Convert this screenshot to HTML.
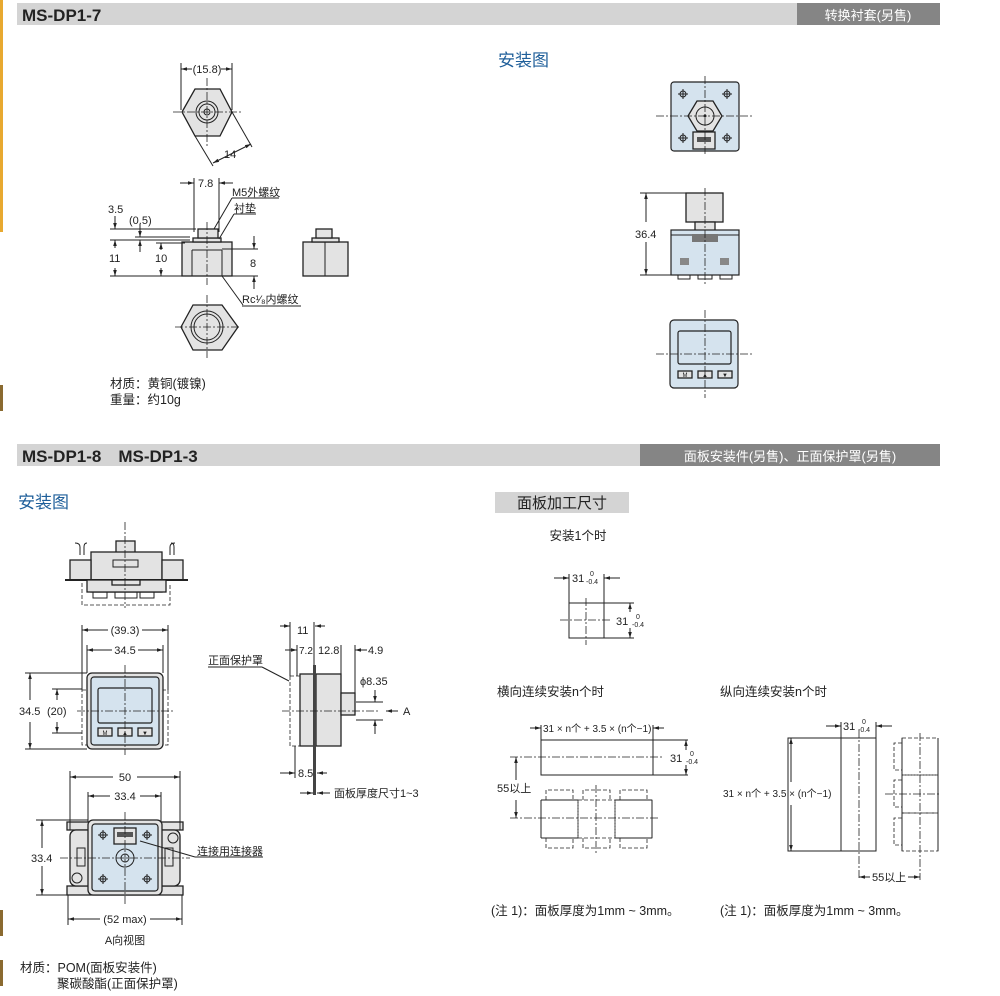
<!DOCTYPE html>
<html><head><meta charset="utf-8"><style>
body{margin:0;background:#fff;width:1000px;height:996px;overflow:hidden;font-family:"Liberation Sans","Noto Sans CJK SC",sans-serif}
svg{position:absolute;left:0;top:0}
text{font-family:"Liberation Sans","Noto Sans CJK SC",sans-serif;fill:#222}
.t{font-size:11px}
.s{font-size:12.5px}
.ln{stroke:#222;stroke-width:1;fill:none}
.c{stroke:#222;stroke-width:0.8;fill:none;stroke-dasharray:8 2 2 2}
.d{stroke:#222;stroke-width:0.8;fill:none;stroke-dasharray:4 2}
.p{fill:#e3e3e3;stroke:#222;stroke-width:1.3}
.b{fill:#d5e3ee;stroke:#222;stroke-width:1.2}
</style></head><body>
<svg width="1000" height="996" viewBox="0 0 1000 996">
<defs><marker id="a" viewBox="0 0 10 10" refX="10" refY="5" markerWidth="6" markerHeight="6" orient="auto-start-reverse"><path d="M0,2 L10,5 L0,8z" fill="#222"/></marker></defs>
<!-- left edge -->
<rect x="0" y="0" width="3" height="232" fill="#e8a930"/>
<rect x="0" y="385" width="3" height="26" fill="#8a6a30"/>
<rect x="0" y="910" width="3" height="26" fill="#8a6a30"/>
<rect x="0" y="960" width="3" height="26" fill="#8a6a30"/>
<!-- headers -->
<rect x="17" y="3" width="923" height="22" fill="#d4d4d4"/>
<rect x="797" y="3" width="143" height="22" fill="#858585"/>
<text x="22" y="21" style="font-size:17px;font-weight:bold">MS-DP1-7</text>
<text x="868" y="20" text-anchor="middle" style="font-size:13px;fill:#fff">转换衬套(另售)</text>
<rect x="17" y="444" width="923" height="22" fill="#d4d4d4"/>
<rect x="640" y="444" width="300" height="22" fill="#858585"/>
<text x="22" y="462" style="font-size:17px;font-weight:bold">MS-DP1-8　MS-DP1-3</text>
<text x="790" y="461" text-anchor="middle" style="font-size:13px;fill:#fff">面板安装件(另售)、正面保护罩(另售)</text>

<!-- top hex -->
<polygon class="p" points="182,112 195,89 220,89 232,112 220,136 195,136"/>
<circle class="ln" cx="207" cy="112" r="11"/><circle class="ln" cx="207" cy="112" r="8"/><circle class="ln" cx="207" cy="112" r="3"/>
<line class="c" x1="173" y1="112" x2="242" y2="112"/><line class="c" x1="207" y1="78" x2="207" y2="146"/>
<line class="ln" x1="181" y1="63" x2="181" y2="110"/><line class="ln" x1="232" y1="63" x2="232" y2="110"/>
<line class="ln" x1="181" y1="69" x2="192" y2="69" marker-start="url(#a)"/><line class="ln" x1="221" y1="69" x2="232" y2="69" marker-end="url(#a)"/>
<text class="t" x="207" y="73" text-anchor="middle">(15.8)</text>
<line class="ln" x1="195" y1="136" x2="213" y2="166"/><line class="ln" x1="232" y1="112" x2="252" y2="147"/>
<line class="ln" x1="213" y1="163" x2="251" y2="144" marker-start="url(#a)" marker-end="url(#a)"/>
<text class="t" x="224" y="158">14</text>
<!-- side view -->
<rect class="p" x="182" y="242" width="50" height="34"/>
<rect class="p" x="193" y="238" width="28" height="4"/>
<rect class="p" x="198" y="229" width="20" height="9"/>
<line class="ln" x1="192" y1="250" x2="222" y2="250"/><line class="ln" x1="192" y1="250" x2="192" y2="276"/><line class="ln" x1="222" y1="250" x2="222" y2="276"/>
<line class="c" x1="207" y1="222" x2="207" y2="285"/>
<line class="ln" x1="194" y1="178" x2="194" y2="232"/><line class="ln" x1="219" y1="178" x2="219" y2="232"/>
<line class="ln" x1="180" y1="183" x2="194" y2="183" marker-end="url(#a)"/><line class="ln" x1="233" y1="183" x2="219" y2="183" marker-end="url(#a)"/>
<text class="t" x="198" y="187">7.8</text>
<text class="t" x="232" y="196">M5外螺纹</text><line class="ln" x1="232" y1="198" x2="279" y2="198"/><line class="ln" x1="232" y1="198" x2="214" y2="229"/>
<text class="t" x="234" y="212">衬垫</text><line class="ln" x1="234" y1="214" x2="256" y2="214"/><line class="ln" x1="234" y1="214" x2="219" y2="239"/>
<text class="t" x="108" y="213">3.5</text>
<text class="t" x="129" y="224">(0.5)</text>
<line class="ln" x1="110" y1="229" x2="196" y2="229"/><line class="ln" x1="110" y1="240" x2="190" y2="240"/>
<line class="ln" x1="135" y1="237" x2="190" y2="237"/>
<line class="ln" x1="115" y1="216" x2="115" y2="229" marker-end="url(#a)"/>
<line class="ln" x1="140" y1="224" x2="140" y2="237" marker-end="url(#a)"/><line class="ln" x1="140" y1="252" x2="140" y2="240" marker-end="url(#a)"/>
<line class="ln" x1="115" y1="248" x2="115" y2="240" marker-end="url(#a)"/><line class="ln" x1="115" y1="268" x2="115" y2="276" marker-end="url(#a)"/>
<text class="t" x="109" y="262">11</text>
<line class="ln" x1="156" y1="243" x2="185" y2="243"/>
<line class="ln" x1="161" y1="250" x2="161" y2="243" marker-end="url(#a)"/><line class="ln" x1="161" y1="268" x2="161" y2="276" marker-end="url(#a)"/>
<text class="t" x="155" y="262">10</text>
<line class="ln" x1="110" y1="276" x2="182" y2="276"/>
<line class="ln" x1="222" y1="249" x2="258" y2="249"/><line class="ln" x1="232" y1="276" x2="258" y2="276"/>
<line class="ln" x1="254" y1="236" x2="254" y2="249" marker-end="url(#a)"/><line class="ln" x1="254" y1="289" x2="254" y2="276" marker-end="url(#a)"/>
<text class="t" x="250" y="267">8</text>
<line class="ln" x1="222" y1="276" x2="243" y2="305"/>
<text class="t" x="242" y="303">Rc¹⁄₈内螺纹</text><line class="ln" x1="242" y1="306" x2="301" y2="306"/>
<rect class="p" x="303" y="242" width="45" height="34"/><line class="ln" x1="325" y1="242" x2="325" y2="276"/>
<rect class="p" x="312" y="238" width="27" height="4"/><rect class="p" x="316" y="229" width="16" height="9"/>
<!-- bottom hex -->
<polygon class="p" points="181,327 193,305 222,305 238,327 222,350 193,350"/>
<circle class="ln" cx="207" cy="327" r="16"/><circle class="ln" cx="207" cy="327" r="13"/>
<line class="c" x1="175" y1="327" x2="240" y2="327"/><line class="c" x1="207" y1="295" x2="207" y2="358"/>
<text class="s" x="110" y="388">材质：黄铜(镀镍)</text>
<text class="s" x="110" y="404">重量：约10g</text>

<!-- right top -->
<text x="498" y="66" style="font-size:17px;fill:#1f5f9a">安装图</text>
<rect class="b" x="671" y="82" width="68" height="69" rx="3"/>
<polygon class="p" points="688,116 697,101 713,101 722,116 713,131 697,131"/>
<circle class="ln" cx="705" cy="116" r="9"/><circle cx="705" cy="116" r="1.5" fill="#222"/>
<rect class="p" x="693" y="132" width="22" height="17"/><rect x="697" y="137" width="14" height="5" fill="#555"/>
<g class="ln"><circle cx="683" cy="94" r="3"/><circle cx="727" cy="94" r="3"/><circle cx="683" cy="138" r="3"/><circle cx="727" cy="138" r="3"/>
<path d="M678 94h10M683 89v10M722 94h10M727 89v10M678 138h10M683 133v10M722 138h10M727 133v10"/></g>
<line class="c" x1="656" y1="116" x2="754" y2="116"/><line class="c" x1="705" y1="76" x2="705" y2="155"/>
<rect class="p" x="686" y="193" width="37" height="29"/>
<rect class="p" x="695" y="222" width="20" height="10"/>
<rect class="b" x="671" y="230" width="68" height="45"/><line class="ln" x1="671" y1="235" x2="739" y2="235"/>
<rect x="692" y="234" width="26" height="8" fill="#777"/>
<rect x="680" y="258" width="9" height="7" fill="#888"/><rect x="720" y="258" width="9" height="7" fill="#888"/>
<path class="ln" d="M678 275v4h12v-4M698 275v4h14v-4M720 275v4h12v-4"/>
<line class="c" x1="705" y1="188" x2="705" y2="284"/>
<line class="ln" x1="640" y1="193" x2="686" y2="193"/><line class="ln" x1="640" y1="275" x2="671" y2="275"/>
<line class="ln" x1="646" y1="222" x2="646" y2="193" marker-end="url(#a)"/><line class="ln" x1="646" y1="242" x2="646" y2="275" marker-end="url(#a)"/>
<text class="t" x="635" y="238">36.4</text>
<rect class="b" x="670" y="320" width="68" height="68" rx="4"/>
<rect class="b" x="678" y="331" width="53" height="33" rx="2"/>
<rect class="p" x="678" y="371" width="14" height="7"/><rect class="p" x="698" y="371" width="14" height="7"/><rect class="p" x="718" y="371" width="14" height="7"/>
<text x="685" y="377" style="font-size:6px" text-anchor="middle">M</text><text x="705" y="377" style="font-size:6px" text-anchor="middle">▲</text><text x="725" y="377" style="font-size:6px" text-anchor="middle">▼</text>
<line class="c" x1="656" y1="354" x2="754" y2="354"/><line class="c" x1="705" y1="310" x2="705" y2="398"/>

<!-- section2 left -->
<text x="18" y="508" style="font-size:17px;fill:#1f5f9a">安装图</text>
<!-- top drawing -->
<rect class="p" x="116" y="541" width="19" height="12"/>
<rect class="p" x="91" y="552" width="71" height="40"/>
<rect class="p" x="70" y="560" width="21" height="20"/><rect class="p" x="162" y="560" width="21" height="20"/>
<rect class="ln" x="113" y="560" width="25" height="7"/>
<line x1="65" y1="580" x2="188" y2="580" stroke="#222" stroke-width="2"/>
<rect class="p" x="87" y="580" width="79" height="12"/><rect class="p" x="112" y="580" width="28" height="5"/>
<path class="ln" d="M93 592v6h14v-6M115 592v6h22v-6M140 592v6h14v-6"/>
<path class="d" d="M82 583v22h88v-22"/>
<path class="ln" d="M80 555v-8q0-4 -5-4M84 555v-8q0-4 3-4M170 555v-8q0-4 5-4M174 555v-8q0-4 -3-4"/>
<line class="c" x1="125" y1="522" x2="125" y2="608"/>
<!-- front -->
<path class="d" d="M82 690h6v55h-6zM162 690h6v55h-6z"/>
<rect class="p" x="87" y="673" width="76" height="76" rx="5"/>
<rect class="b" x="91" y="677" width="68" height="68" rx="3"/>
<rect class="b" x="98" y="688" width="54" height="35" rx="2"/>
<rect class="p" x="98" y="728" width="14" height="8"/><rect class="p" x="118" y="728" width="14" height="8"/><rect class="p" x="138" y="728" width="14" height="8"/>
<text x="105" y="735" style="font-size:6px" text-anchor="middle">M</text><text x="125" y="735" style="font-size:6px" text-anchor="middle">▲</text><text x="145" y="735" style="font-size:6px" text-anchor="middle">▼</text>
<line class="c" x1="77" y1="711" x2="173" y2="711"/><line class="c" x1="125" y1="665" x2="125" y2="755"/>
<line class="ln" x1="82" y1="625" x2="82" y2="690"/><line class="ln" x1="168" y1="625" x2="168" y2="690"/>
<line class="ln" x1="87" y1="645" x2="87" y2="673"/><line class="ln" x1="163" y1="645" x2="163" y2="673"/>
<line class="ln" x1="108" y1="630" x2="82" y2="630" marker-end="url(#a)"/><line class="ln" x1="142" y1="630" x2="168" y2="630" marker-end="url(#a)"/>
<text class="t" x="125" y="634" text-anchor="middle">(39.3)</text>
<line class="ln" x1="112" y1="650" x2="87" y2="650" marker-end="url(#a)"/><line class="ln" x1="138" y1="650" x2="163" y2="650" marker-end="url(#a)"/>
<text class="t" x="125" y="654" text-anchor="middle">34.5</text>
<line class="ln" x1="25" y1="673" x2="87" y2="673"/><line class="ln" x1="25" y1="749" x2="87" y2="749"/>
<line class="ln" x1="30" y1="700" x2="30" y2="673" marker-end="url(#a)"/><line class="ln" x1="30" y1="722" x2="30" y2="749" marker-end="url(#a)"/>
<text class="t" x="19" y="715">34.5</text>
<line class="ln" x1="52" y1="689" x2="82" y2="689"/><line class="ln" x1="52" y1="733" x2="82" y2="733"/>
<line class="ln" x1="57" y1="700" x2="57" y2="689" marker-end="url(#a)"/><line class="ln" x1="57" y1="722" x2="57" y2="733" marker-end="url(#a)"/>
<text class="t" x="47" y="715">(20)</text>
<!-- bottom view -->
<rect class="p" x="67" y="822" width="116" height="8"/><rect class="p" x="67" y="886" width="116" height="9"/>
<rect class="p" x="70" y="830" width="110" height="56" rx="6"/>
<rect class="p" x="88" y="820" width="74" height="75" rx="5"/>
<rect class="b" x="92" y="824" width="66" height="67" rx="3"/>
<rect class="p" x="114" y="828" width="22" height="16"/><rect x="117" y="832" width="16" height="5" fill="#555"/>
<circle class="ln" cx="125" cy="858" r="9"/><circle class="ln" cx="125" cy="858" r="4"/>
<g class="ln"><circle cx="103" cy="835" r="3"/><circle cx="147" cy="835" r="3"/><circle cx="103" cy="879" r="3"/><circle cx="147" cy="879" r="3"/>
<path d="M98 835h10M103 830v10M142 835h10M147 830v10M98 879h10M103 874v10M142 879h10M147 874v10"/>
<circle cx="173" cy="838" r="5"/><circle cx="77" cy="878" r="5"/><rect x="77" y="848" width="8" height="18"/><rect x="165" y="848" width="8" height="18"/></g>
<line class="c" x1="60" y1="858" x2="190" y2="858"/><line class="c" x1="125" y1="812" x2="125" y2="905"/>
<line class="ln" x1="70" y1="771" x2="70" y2="830"/><line class="ln" x1="180" y1="771" x2="180" y2="830"/>
<line class="ln" x1="113" y1="777" x2="70" y2="777" marker-end="url(#a)"/><line class="ln" x1="137" y1="777" x2="180" y2="777" marker-end="url(#a)"/>
<text class="t" x="125" y="781" text-anchor="middle">50</text>
<line class="ln" x1="88" y1="792" x2="88" y2="822"/><line class="ln" x1="161" y1="792" x2="161" y2="822"/>
<line class="ln" x1="110" y1="796" x2="88" y2="796" marker-end="url(#a)"/><line class="ln" x1="140" y1="796" x2="161" y2="796" marker-end="url(#a)"/>
<text class="t" x="125" y="800" text-anchor="middle">33.4</text>
<line class="ln" x1="36" y1="820" x2="88" y2="820"/><line class="ln" x1="36" y1="895" x2="70" y2="895"/>
<line class="ln" x1="42" y1="848" x2="42" y2="820" marker-end="url(#a)"/><line class="ln" x1="42" y1="866" x2="42" y2="895" marker-end="url(#a)"/>
<text class="t" x="31" y="862">33.4</text>
<line class="ln" x1="68" y1="895" x2="68" y2="925"/><line class="ln" x1="182" y1="895" x2="182" y2="925"/>
<line class="ln" x1="100" y1="919" x2="68" y2="919" marker-end="url(#a)"/><line class="ln" x1="150" y1="919" x2="182" y2="919" marker-end="url(#a)"/>
<text class="t" x="125" y="923" text-anchor="middle">(52 max)</text>
<text class="t" x="125" y="944" text-anchor="middle">A向视图</text>
<line class="ln" x1="140" y1="841" x2="195" y2="857"/><line class="ln" x1="195" y1="857" x2="263" y2="857"/>
<text class="t" x="197" y="855">连接用连接器</text>
<text class="s" x="20" y="972">材质：POM(面板安装件)</text>
<text class="s" x="57" y="988">聚碳酸酯(正面保护罩)</text>
<!-- side view section2 -->
<path class="d" d="M290 676h10v70h-10z"/>
<rect class="p" x="300" y="674" width="14" height="72"/>
<rect class="p" x="316" y="674" width="25" height="72"/>
<rect class="p" x="341" y="693" width="14" height="22"/>
<rect x="313" y="665" width="3" height="130" fill="#444"/>
<line class="c" x1="282" y1="711" x2="380" y2="711"/>
<line class="ln" x1="280" y1="626" x2="290" y2="626" marker-end="url(#a)"/><line class="ln" x1="325" y1="626" x2="315" y2="626" marker-end="url(#a)"/>
<text class="t" x="297" y="634">11</text>
<line class="ln" x1="290" y1="622" x2="290" y2="676"/><line class="ln" x1="314" y1="622" x2="314" y2="665"/>
<line class="ln" x1="297" y1="645" x2="297" y2="676"/><line class="ln" x1="341" y1="645" x2="341" y2="693"/><line class="ln" x1="355" y1="645" x2="355" y2="693"/>
<text class="t" x="299" y="654" style="font-size:10px">7.2</text><text class="t" x="318" y="654">12.8</text><text class="t" x="368" y="654">4.9</text>
<line class="ln" x1="285" y1="650" x2="297" y2="650" marker-end="url(#a)"/><line class="ln" x1="367" y1="650" x2="355" y2="650" marker-end="url(#a)"/>
<text class="t" x="360" y="685">ϕ8.35</text>
<line class="ln" x1="356" y1="702" x2="383" y2="702"/><line class="ln" x1="356" y1="720" x2="383" y2="720"/>
<line class="ln" x1="375" y1="690" x2="375" y2="702" marker-end="url(#a)"/><line class="ln" x1="375" y1="734" x2="375" y2="720" marker-end="url(#a)"/>
<line class="ln" x1="398" y1="711" x2="386" y2="711" marker-end="url(#a)"/><text class="t" x="403" y="715">A</text>
<text class="t" x="208" y="664">正面保护罩</text><line class="ln" x1="208" y1="667" x2="262" y2="667"/><line class="ln" x1="262" y1="667" x2="289" y2="681"/>
<line class="ln" x1="295" y1="746" x2="295" y2="778"/>
<line class="ln" x1="280" y1="773" x2="295" y2="773" marker-end="url(#a)"/><line class="ln" x1="327" y1="773" x2="317" y2="773" marker-end="url(#a)"/>
<text class="t" x="298" y="777">8.5</text>
<line class="ln" x1="300" y1="793" x2="313" y2="793" marker-end="url(#a)"/><line class="ln" x1="330" y1="793" x2="317" y2="793" marker-end="url(#a)"/>
<text class="t" x="334" y="797">面板厚度尺寸1~3</text>

<!-- panel cutout -->
<rect x="495" y="492" width="134" height="21" fill="#d4d4d4"/>
<text x="562" y="508" text-anchor="middle" style="font-size:15px">面板加工尺寸</text>
<text class="s" x="578" y="540" text-anchor="middle">安装1个时</text>
<rect class="ln" x="569" y="603" width="35" height="35"/>
<line class="c" x1="560" y1="620" x2="612" y2="620"/><line class="c" x1="586" y1="598" x2="586" y2="645"/>
<line class="ln" x1="569" y1="574" x2="569" y2="603"/><line class="ln" x1="604" y1="574" x2="604" y2="603"/>
<line class="ln" x1="554" y1="578" x2="569" y2="578" marker-end="url(#a)"/><line class="ln" x1="620" y1="578" x2="604" y2="578" marker-end="url(#a)"/>
<text class="t" x="572" y="582">31</text><text x="590" y="576" style="font-size:7px">0</text><text x="586" y="584" style="font-size:7px">-0.4</text>
<line class="ln" x1="604" y1="603" x2="634" y2="603"/><line class="ln" x1="604" y1="638" x2="634" y2="638"/>
<line class="ln" x1="630" y1="612" x2="630" y2="603" marker-end="url(#a)"/><line class="ln" x1="630" y1="628" x2="630" y2="638" marker-end="url(#a)"/>
<text class="t" x="616" y="625">31</text><text x="636" y="619" style="font-size:7px">0</text><text x="632" y="627" style="font-size:7px">-0.4</text>
<text class="s" x="497" y="696">横向连续安装n个时</text>
<rect class="ln" x="541" y="740" width="112" height="35"/>
<line class="ln" x1="653" y1="740" x2="688" y2="740"/><line class="ln" x1="653" y1="775" x2="688" y2="775"/>
<line class="c" x1="510" y1="757" x2="662" y2="757"/>
<line class="ln" x1="541" y1="725" x2="541" y2="740"/><line class="ln" x1="653" y1="725" x2="653" y2="740"/>
<line class="ln" x1="530" y1="728" x2="541" y2="728" marker-end="url(#a)"/><line class="ln" x1="664" y1="728" x2="653" y2="728" marker-end="url(#a)"/>
<text class="t" x="543" y="732" style="font-size:10px">31 × n个 + 3.5 × (n个−1)</text>
<line class="ln" x1="686" y1="750" x2="686" y2="740" marker-end="url(#a)"/><line class="ln" x1="686" y1="765" x2="686" y2="775" marker-end="url(#a)"/>
<text class="t" x="670" y="762">31</text><text x="690" y="756" style="font-size:7px">0</text><text x="686" y="764" style="font-size:7px">-0.4</text>
<line class="ln" x1="516" y1="780" x2="516" y2="757" marker-end="url(#a)"/><line class="ln" x1="516" y1="800" x2="516" y2="818" marker-end="url(#a)"/>
<text class="t" x="497" y="792">55以上</text>
<g class="d"><rect x="541" y="800" width="37" height="38"/><rect x="578" y="800" width="37" height="38"/><rect x="615" y="800" width="37" height="38"/>
<path d="M546 800v-10h27v10M583 800v-10h27v10M620 800v-10h27v10M546 838v10h27v-10M583 838v10h27v-10M620 838v10h27v-10"/></g>
<line class="ln" x1="541" y1="800" x2="541" y2="838"/><line class="ln" x1="652" y1="800" x2="652" y2="838"/><line class="ln" x1="541" y1="800" x2="578" y2="800"/><line class="ln" x1="615" y1="800" x2="652" y2="800"/><line class="ln" x1="541" y1="838" x2="578" y2="838"/><line class="ln" x1="615" y1="838" x2="652" y2="838"/>
<line class="c" x1="510" y1="818" x2="660" y2="818"/><line class="c" x1="596" y1="785" x2="596" y2="855"/>
<text class="s" x="720" y="696">纵向连续安装n个时</text>
<rect class="ln" x="788" y="738" width="88" height="113"/><line class="ln" x1="841" y1="738" x2="841" y2="851"/>
<line class="c" x1="859" y1="730" x2="859" y2="880"/>
<line class="ln" x1="841" y1="722" x2="841" y2="738"/><line class="ln" x1="876" y1="722" x2="876" y2="738"/>
<line class="ln" x1="826" y1="726" x2="841" y2="726" marker-end="url(#a)"/><line class="ln" x1="892" y1="726" x2="876" y2="726" marker-end="url(#a)"/>
<text class="t" x="843" y="730">31</text><text x="862" y="724" style="font-size:7px">0</text><text x="858" y="732" style="font-size:7px">-0.4</text>
<line class="ln" x1="791" y1="782" x2="791" y2="738" marker-end="url(#a)"/><line class="ln" x1="791" y1="805" x2="791" y2="851" marker-end="url(#a)"/>
<text class="t" x="723" y="797" style="font-size:10px">31 × n个 + 3.5 × (n个−1)</text>
<g class="d"><rect x="902" y="738" width="36" height="37"/><rect x="902" y="775" width="36" height="38"/><rect x="902" y="813" width="36" height="38"/>
<path d="M902 743h-8v27h8M902 780h-8v27h8M902 818h-8v27h8"/></g>
<line class="ln" x1="902" y1="738" x2="902" y2="851"/><line class="ln" x1="938" y1="738" x2="938" y2="851"/>
<line class="c" x1="885" y1="794" x2="940" y2="794"/><line class="c" x1="920" y1="733" x2="920" y2="880"/>
<line class="ln" x1="870" y1="877" x2="859" y2="877" marker-end="url(#a)"/><line class="ln" x1="908" y1="877" x2="920" y2="877" marker-end="url(#a)"/>
<text class="t" x="872" y="881">55以上</text>
<text class="s" x="491" y="915">(注 1)：面板厚度为1mm ~ 3mm。</text>
<text class="s" x="720" y="915">(注 1)：面板厚度为1mm ~ 3mm。</text>
</svg>
</body></html>
